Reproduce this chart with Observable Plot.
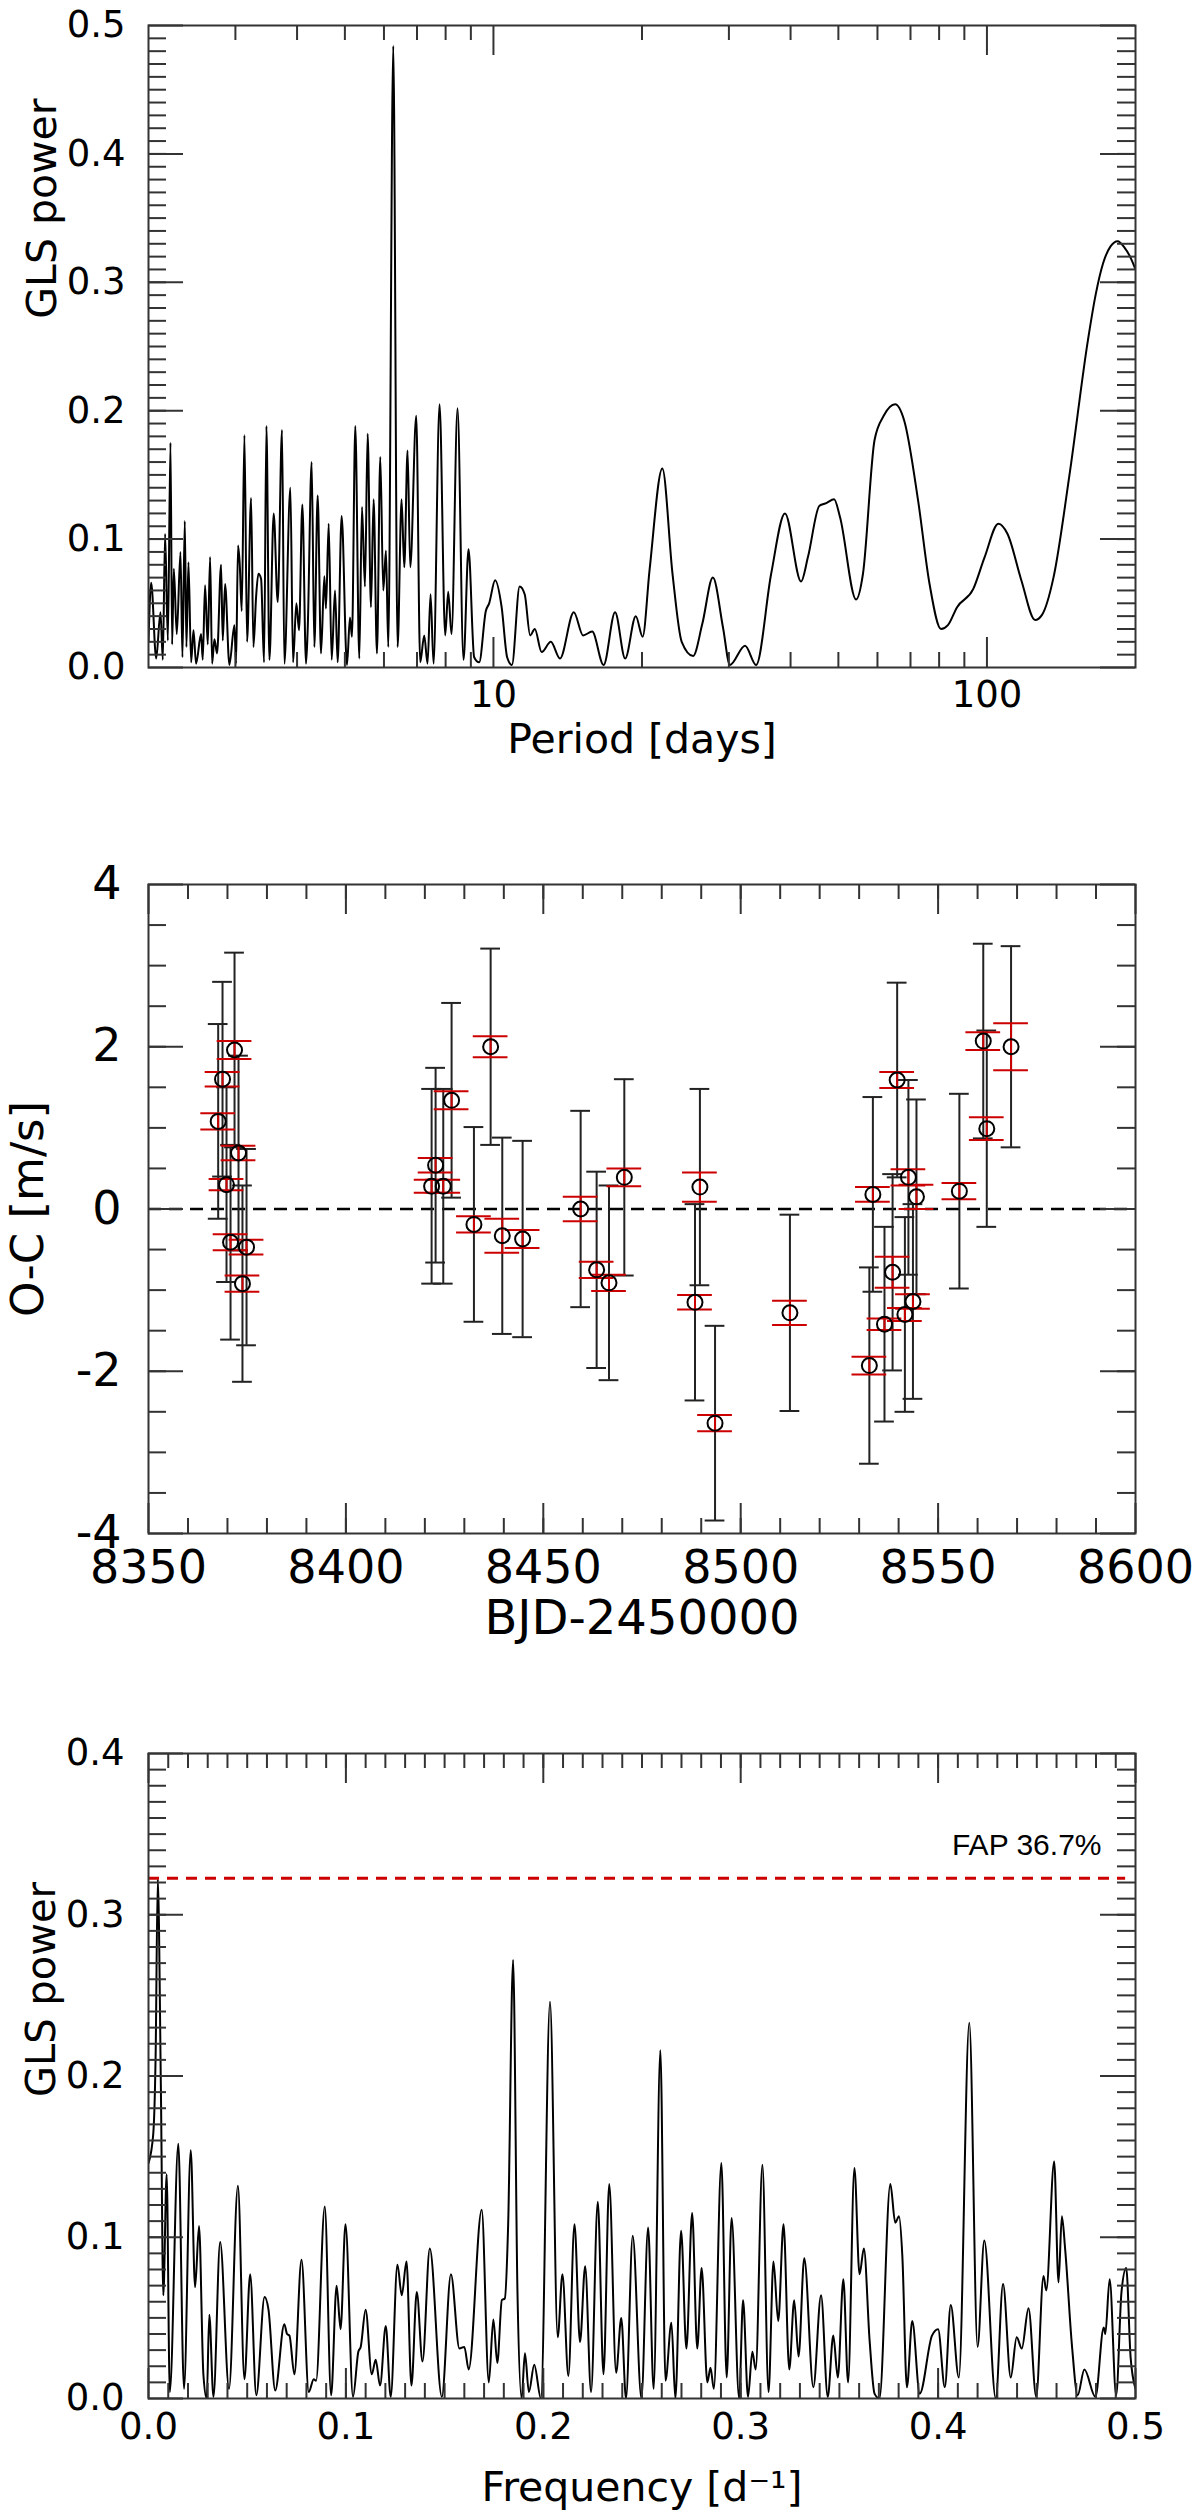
<!DOCTYPE html>
<html>
<head>
<meta charset="utf-8">
<script src="https://cdn.jsdelivr.net/npm/d3@7"></script>
<script src="https://cdn.jsdelivr.net/npm/@observablehq/plot@0.6"></script>
<style>
  body { margin: 0; background: #fff; }
  #fig { width: 1200px; }
  #fig svg { display: block; }
</style>
</head>
<body>
<div id="fig"></div>
<script>
// --- panel 1: GLS periodogram of the RVs (period axis) ---
const periodDays = [2.000, 2.025, 2.073, 2.115, 2.138, 2.161, 2.189, 2.216, 2.233, 2.251,
  2.282, 2.322, 2.343, 2.369, 2.387, 2.410, 2.440, 2.467, 2.497, 2.556,
  2.576, 2.604, 2.637, 2.666, 2.691, 2.720, 2.754, 2.806, 2.828, 2.859,
  2.917, 2.986, 3.009, 3.037, 3.061, 3.090, 3.129, 3.168, 3.228, 3.263,
  3.304, 3.340, 3.382, 3.429, 3.467, 3.516, 3.587, 3.655, 3.729, 3.770,
  3.877, 3.926, 3.987, 4.037, 4.100, 4.171, 4.203, 4.282, 4.336, 4.404,
  4.473, 4.543, 4.578, 4.636, 4.701, 4.775, 4.834, 4.925, 5.049, 5.120,
  5.168, 5.249, 5.348, 5.415, 5.491, 5.560, 5.647, 5.717, 5.807, 5.898,
  5.981, 6.056, 6.122, 6.266, 6.394, 6.514, 6.596, 6.699, 6.783, 6.975,
  7.106, 7.240, 7.353, 7.457, 7.562, 7.777, 7.985, 8.097, 8.224, 8.457,
  8.697, 8.902, 9.140, 9.356, 9.651, 9.802, 10.08, 10.39, 10.66, 10.90,
  11.30, 11.57, 11.87, 12.13, 12.52, 13.07, 13.64, 14.55, 15.19, 15.85,
  16.72, 17.64, 18.49, 19.43, 20.06, 20.72, 21.99, 23.06, 24.07, 25.39,
  26.50, 27.84, 29.19, 30.14, 32.35, 34.06, 36.54, 38.97, 42.01, 43.38,
  45.77, 47.26, 49.01, 50.39, 54.31, 56.08, 59.18, 61.77, 65.16, 68.01,
  72.53, 76.51, 80.72, 83.35, 87.00, 93.77, 98.93, 105.5, 110.1, 117.4,
  125.2, 129.3, 136.4, 147.1, 160.2, 166, 172, 178, 184, 190,
  195, 200];
const periodPower = [0.020, 0.066, 0.007, 0.043, 0.006, 0.104, 0.021, 0.175, 0.018, 0.077,
  0.026, 0.090, 0.008, 0.114, 0.016, 0.082, 0.004, 0.029, 0.003, 0.026,
  0.006, 0.064, 0.018, 0.086, 0.003, 0.022, 0.011, 0.080, 0.021, 0.065,
  0.002, 0.033, 0.003, 0.095, 0.081, 0.044, 0.181, 0.020, 0.132, 0.016,
  0.055, 0.073, 0.069, 0.004, 0.188, 0.006, 0.120, 0.051, 0.185, 0.003,
  0.140, 0.004, 0.050, 0.029, 0.127, 0.003, 0.029, 0.160, 0.016, 0.134,
  0.011, 0.071, 0.046, 0.112, 0.006, 0.060, 0.004, 0.118, 0.002, 0.039,
  0.024, 0.188, 0.007, 0.125, 0.063, 0.182, 0.047, 0.131, 0.011, 0.164,
  0.060, 0.091, 0.016, 0.484, 0.016, 0.131, 0.078, 0.169, 0.078, 0.196,
  0.004, 0.025, 0.003, 0.057, 0.003, 0.205, 0.025, 0.059, 0.026, 0.202,
  0.006, 0.092, 0.008, 0.004, 0.044, 0.050, 0.068, 0.047, 0.008, 0.002,
  0.063, 0.057, 0.025, 0.030, 0.012, 0.020, 0.007, 0.043, 0.025, 0.028,
  0.002, 0.043, 0.007, 0.040, 0.024, 0.076, 0.155, 0.073, 0.020, 0.009,
  0.034, 0.070, 0.031, 0.002, 0.017, 0.002, 0.073, 0.120, 0.067, 0.086,
  0.126, 0.128, 0.131, 0.117, 0.053, 0.073, 0.177, 0.196, 0.205, 0.192,
  0.130, 0.065, 0.030, 0.033, 0.047, 0.061, 0.086, 0.112, 0.104, 0.068,
  0.037, 0.041, 0.070, 0.151, 0.255, 0.290, 0.315, 0.328, 0.332, 0.327,
  0.320, 0.310];
const periodTicks = [10, 100];
const periodMinor = [3, 4, 5, 6, 7, 8, 9, 20, 30, 40, 50, 60, 70, 80, 90];
const powerTicksTop = [0, 0.1, 0.2, 0.3, 0.4, 0.5];

// --- panel 2: O-C residuals ---
const bjd = [8367.65, 8368.75, 8369.76, 8370.78, 8371.79, 8372.80, 8373.80, 8374.83,
  8421.71, 8422.72, 8424.66, 8426.77, 8432.43, 8436.66, 8439.61, 8444.76,
  8459.46, 8463.51, 8466.64, 8470.52, 8488.42, 8489.67, 8493.50, 8512.47,
  8532.59, 8533.48, 8536.42, 8538.47, 8539.63, 8541.59, 8542.48, 8543.63, 8544.52,
  8555.39, 8561.44, 8562.33, 8568.48];
const oc = [1.08, 1.60, 0.30, -0.41, 1.96, 0.69, -0.92, -0.47,
  0.28, 0.54, 0.28, 1.34, -0.19, 2.00, -0.33, -0.37,
  0.00, -0.75, -0.91, 0.39, -1.15, 0.27, -2.64, -1.28,
  -1.93, 0.18, -1.42, -0.78, 1.59, -1.30, 0.39, -1.14, 0.15,
  0.22, 2.07, 0.99, 2.00];
const errBlack = [1.20, 1.20, 1.20, 1.20, 1.20, 1.20, 1.21, 1.21,
  1.20, 1.20, 1.20, 1.20, 1.20, 1.21, 1.21, 1.21,
  1.21, 1.21, 1.20, 1.21, 1.21, 1.21, 1.20, 1.21,
  1.21, 1.20, 1.20, 1.21, 1.20, 1.20, 1.20, 1.20, 1.20,
  1.20, 1.20, 1.21, 1.24];
const errRed = [0.10, 0.09, 0.07, 0.10, 0.11, 0.09, 0.10, 0.09,
  0.08, 0.09, 0.08, 0.11, 0.10, 0.13, 0.21, 0.11,
  0.15, 0.10, 0.10, 0.11, 0.09, 0.18, 0.10, 0.15,
  0.11, 0.09, 0.07, 0.19, 0.10, 0.08, 0.10, 0.09, 0.15,
  0.10, 0.11, 0.14, 0.29];
const bjdTicks = [8350, 8400, 8450, 8500, 8550, 8600];
const ocTicks = [-4, -2, 0, 2, 4];

// --- panel 3: GLS periodogram of the residuals (frequency axis) ---
const freqs = [0.000, 0.0024, 0.0036, 0.0047, 0.0063, 0.0075, 0.0092, 0.0108, 0.0151, 0.0180,
  0.0214, 0.0236, 0.0256, 0.0278, 0.0295, 0.0308, 0.0329, 0.0363, 0.0408, 0.0453,
  0.0486, 0.0515, 0.0546, 0.0588, 0.0608, 0.0642, 0.0688, 0.0702, 0.0714, 0.0739,
  0.0775, 0.0812, 0.0837, 0.0849, 0.0893, 0.0925, 0.0953, 0.0973, 0.0998, 0.1036,
  0.1063, 0.1075, 0.1100, 0.1131, 0.1151, 0.1173, 0.1202, 0.1227, 0.1261, 0.1283,
  0.1307, 0.1332, 0.1359, 0.1388, 0.1425, 0.1486, 0.1532, 0.1575, 0.1600, 0.1622,
  0.1688, 0.1724, 0.1747, 0.1767, 0.1790, 0.1805, 0.1822, 0.1847, 0.1869, 0.1890,
  0.1907, 0.1927, 0.1954, 0.1988, 0.2034, 0.2073, 0.2097, 0.2127, 0.2158, 0.2186,
  0.2212, 0.2242, 0.2276, 0.2305, 0.2334, 0.2369, 0.2395, 0.2419, 0.2453, 0.2497,
  0.2531, 0.2559, 0.2593, 0.2619, 0.2649, 0.2669, 0.2698, 0.2725, 0.2754, 0.2780,
  0.2802, 0.2831, 0.2847, 0.2864, 0.2902, 0.2929, 0.2954, 0.2992, 0.3012, 0.3037,
  0.3059, 0.3076, 0.3110, 0.3141, 0.3166, 0.3190, 0.3217, 0.3246, 0.3271, 0.3293,
  0.3322, 0.3368, 0.3407, 0.3441, 0.3469, 0.3492, 0.3520, 0.3544, 0.3576, 0.3602,
  0.3624, 0.3653, 0.3678, 0.3703, 0.3758, 0.3783, 0.3802, 0.3819, 0.3842, 0.3869,
  0.3907, 0.3969, 0.4000, 0.4034, 0.4064, 0.4105, 0.4158, 0.4200, 0.4234, 0.4292,
  0.4329, 0.4368, 0.4398, 0.4424, 0.4458, 0.4497, 0.4534, 0.4548, 0.4588, 0.4610,
  0.4627, 0.4644, 0.4678, 0.4707, 0.4741, 0.4797, 0.4839, 0.4847, 0.4869, 0.4902,
  0.4929, 0.4953, 0.4975, 0.5000];
const freqPower = [0.146, 0.164, 0.212, 0.322, 0.190, 0.064, 0.139, 0.004, 0.158, 0.006,
  0.154, 0.069, 0.107, 0.015, 0.000, 0.052, 0.001, 0.097, 0.006, 0.132,
  0.012, 0.077, 0.002, 0.063, 0.055, 0.005, 0.046, 0.040, 0.039, 0.015,
  0.086, 0.004, 0.012, 0.011, 0.119, 0.002, 0.070, 0.043, 0.108, 0.001,
  0.029, 0.032, 0.055, 0.015, 0.024, 0.008, 0.045, 0.001, 0.083, 0.064,
  0.085, 0.008, 0.066, 0.023, 0.093, 0.001, 0.077, 0.031, 0.032, 0.018,
  0.117, 0.010, 0.049, 0.022, 0.061, 0.062, 0.108, 0.272, 0.067, 0.000,
  0.028, 0.004, 0.021, 0.000, 0.246, 0.038, 0.077, 0.014, 0.108, 0.035,
  0.082, 0.004, 0.122, 0.015, 0.133, 0.016, 0.050, 0.000, 0.101, 0.000,
  0.106, 0.006, 0.216, 0.011, 0.047, 0.000, 0.104, 0.031, 0.115, 0.031,
  0.081, 0.010, 0.019, 0.006, 0.146, 0.013, 0.112, 0.000, 0.061, 0.001,
  0.029, 0.018, 0.145, 0.004, 0.085, 0.048, 0.108, 0.018, 0.061, 0.026,
  0.087, 0.007, 0.064, 0.001, 0.039, 0.013, 0.074, 0.010, 0.143, 0.077,
  0.093, 0.036, 0.003, 0.000, 0.133, 0.109, 0.113, 0.088, 0.007, 0.048,
  0.003, 0.039, 0.043, 0.007, 0.058, 0.013, 0.233, 0.032, 0.098, 0.000,
  0.071, 0.013, 0.038, 0.031, 0.056, 0.001, 0.076, 0.067, 0.147, 0.072,
  0.113, 0.092, 0.033, 0.002, 0.018, 0.001, 0.044, 0.040, 0.074, 0.002,
  0.066, 0.081, 0.026, 0.006];
const fapLevel = 0.3227;
const fapLabel = "FAP 36.7%";
const freqTicks = [0, 0.1, 0.2, 0.3, 0.4, 0.5];
const powerTicksBottom = [0, 0.1, 0.2, 0.3, 0.4];

// IDL-like frame: box with inward ticks on all four sides
const axisColor = "#333";
function frameTicks(xMinor, xMajor, yMinor, yMajor, w, h) {
  const st = {stroke: axisColor, strokeWidth: 2};
  return [
    Plot.tickX(xMinor, {x: d => d, insetTop: h - 15, ...st}),
    Plot.tickX(xMinor, {x: d => d, insetBottom: h - 15, ...st}),
    Plot.tickX(xMajor, {x: d => d, insetTop: h - 30, ...st}),
    Plot.tickX(xMajor, {x: d => d, insetBottom: h - 30, ...st}),
    Plot.tickY(yMinor, {y: d => d, insetRight: w - 18, ...st}),
    Plot.tickY(yMinor, {y: d => d, insetLeft: w - 18, ...st}),
    Plot.tickY(yMajor, {y: d => d, insetRight: w - 35, ...st}),
    Plot.tickY(yMajor, {y: d => d, insetLeft: w - 35, ...st}),
    Plot.frame(st)
  ];
}

const W = 1200, ML = 148, MR = 65;
const plotW = W - ML - MR;
const font = "DejaVu Sans";
const fmt1 = d => d.toFixed(1);

// top panel
const topData = periodDays.map((p, i) => ({p, g: periodPower[i]}));
const topPlot = Plot.plot({
  width: W, height: 810,
  marginLeft: ML, marginRight: MR, marginTop: 25, marginBottom: 143,
  style: {fontFamily: font, fontSize: "37px", color: "black", background: "white"},
  x: {type: "log", domain: [2, 200], ticks: periodTicks, tickFormat: d => String(d), tickSize: 0, tickPadding: 13, label: null},
  y: {domain: [0, 0.5], ticks: powerTicksTop, tickFormat: fmt1, tickSize: 0, tickPadding: 23, label: null},
  marks: [
    Plot.line(topData, {x: "p", y: "g", stroke: "black", strokeWidth: 2, curve: "monotone-x", clip: true}),
    ...frameTicks(periodMinor, periodTicks, d3.range(0.01, 0.5, 0.01), powerTicksTop, plotW, 642),
    Plot.text(["Period [days]"], {text: d => d, frameAnchor: "bottom", dy: 85, lineAnchor: "bottom", fontSize: 41}),
    Plot.text(["GLS power"], {text: d => d, frameAnchor: "top-left", dx: -122, dy: 183, rotate: -90, textAnchor: "middle", fontSize: 41})
  ]
});

// middle panel
const rv = bjd.map((t, i) => ({t, v: oc[i], eb: errBlack[i], er: errRed[i]}));
const capBlack = 2.5, capRed = 4.4; // cap half-widths in days
const red = "#cc0000", barColor = "#222";
const midPlot = Plot.plot({
  width: W, height: 880,
  marginLeft: ML, marginRight: MR, marginTop: 74, marginBottom: 157,
  style: {fontFamily: font, fontSize: "46px", color: "black", background: "white"},
  x: {domain: [8350, 8600], ticks: bjdTicks, tickFormat: d => String(d), tickSize: 0, tickPadding: 17, label: null},
  y: {domain: [-4, 4], ticks: ocTicks, tickFormat: d => String(d), tickSize: 0, tickPadding: 27, label: null},
  marks: [
    Plot.ruleY([0], {stroke: "black", strokeWidth: 2.5, strokeDasharray: "13,8"}),
    Plot.ruleX(rv, {x: "t", y1: d => d.v - d.eb, y2: d => d.v + d.eb, stroke: barColor, strokeWidth: 2}),
    Plot.ruleY(rv, {y: d => d.v + d.eb, x1: d => d.t - capBlack, x2: d => d.t + capBlack, stroke: barColor, strokeWidth: 2}),
    Plot.ruleY(rv, {y: d => d.v - d.eb, x1: d => d.t - capBlack, x2: d => d.t + capBlack, stroke: barColor, strokeWidth: 2}),
    Plot.ruleX(rv, {x: "t", y1: d => d.v - d.er, y2: d => d.v + d.er, stroke: red, strokeWidth: 2}),
    Plot.ruleY(rv, {y: d => d.v + d.er, x1: d => d.t - capRed, x2: d => d.t + capRed, stroke: red, strokeWidth: 2}),
    Plot.ruleY(rv, {y: d => d.v - d.er, x1: d => d.t - capRed, x2: d => d.t + capRed, stroke: red, strokeWidth: 2}),
    Plot.dot(rv, {x: "t", y: "v", r: 7.5, stroke: "black", strokeWidth: 2}),
    ...frameTicks(d3.range(8360, 8600, 10), bjdTicks, d3.range(-3.5, 4, 0.5), ocTicks, plotW, 649),
    Plot.text(["BJD-2450000"], {text: d => d, frameAnchor: "bottom", dy: 100, lineAnchor: "bottom", fontSize: 48}),
    Plot.text(["O-C [m/s]"], {text: d => d, frameAnchor: "left", dx: -120, rotate: -90, textAnchor: "middle", fontSize: 45})
  ]
});

// bottom panel
const botData = freqs.map((f, i) => ({f, g: freqPower[i]}));
const botPlot = Plot.plot({
  width: W, height: 825,
  marginLeft: ML, marginRight: MR, marginTop: 63, marginBottom: 117,
  style: {fontFamily: font, fontSize: "37px", color: "black", background: "white"},
  x: {domain: [0, 0.5], ticks: freqTicks, tickFormat: fmt1, tickSize: 0, tickPadding: 14, label: null},
  y: {domain: [0, 0.4], ticks: powerTicksBottom, tickFormat: fmt1, tickSize: 0, tickPadding: 24, label: null},
  marks: [
    Plot.line(botData, {x: "f", y: "g", stroke: "black", strokeWidth: 2, curve: "monotone-x", clip: true}),
    Plot.ruleY([fapLevel], {x1: 0, x2: 0.495, stroke: red, strokeWidth: 3, strokeDasharray: "11,8"}),
    Plot.text([fapLabel], {text: d => d, x: 0.5, y: fapLevel, dx: -34, dy: -23, textAnchor: "end", lineAnchor: "bottom", fontFamily: "Liberation Sans", fontSize: 30}),
    ...frameTicks(d3.range(0.01, 0.5, 0.01), freqTicks, d3.range(0.01, 0.4, 0.01), powerTicksBottom, plotW, 645),
    Plot.text(["Frequency [d\u207B\u00B9]"], {text: d => d, frameAnchor: "bottom", dy: 102, lineAnchor: "bottom", fontSize: 41}),
    Plot.text(["GLS power"], {text: d => d, frameAnchor: "top-left", dx: -122, dy: 236, rotate: -90, textAnchor: "middle", fontSize: 40})
  ]
});

const fig = d3.select("#fig");
fig.append(() => topPlot);
fig.append(() => midPlot);
fig.append(() => botPlot);
</script>
</body>
</html>
